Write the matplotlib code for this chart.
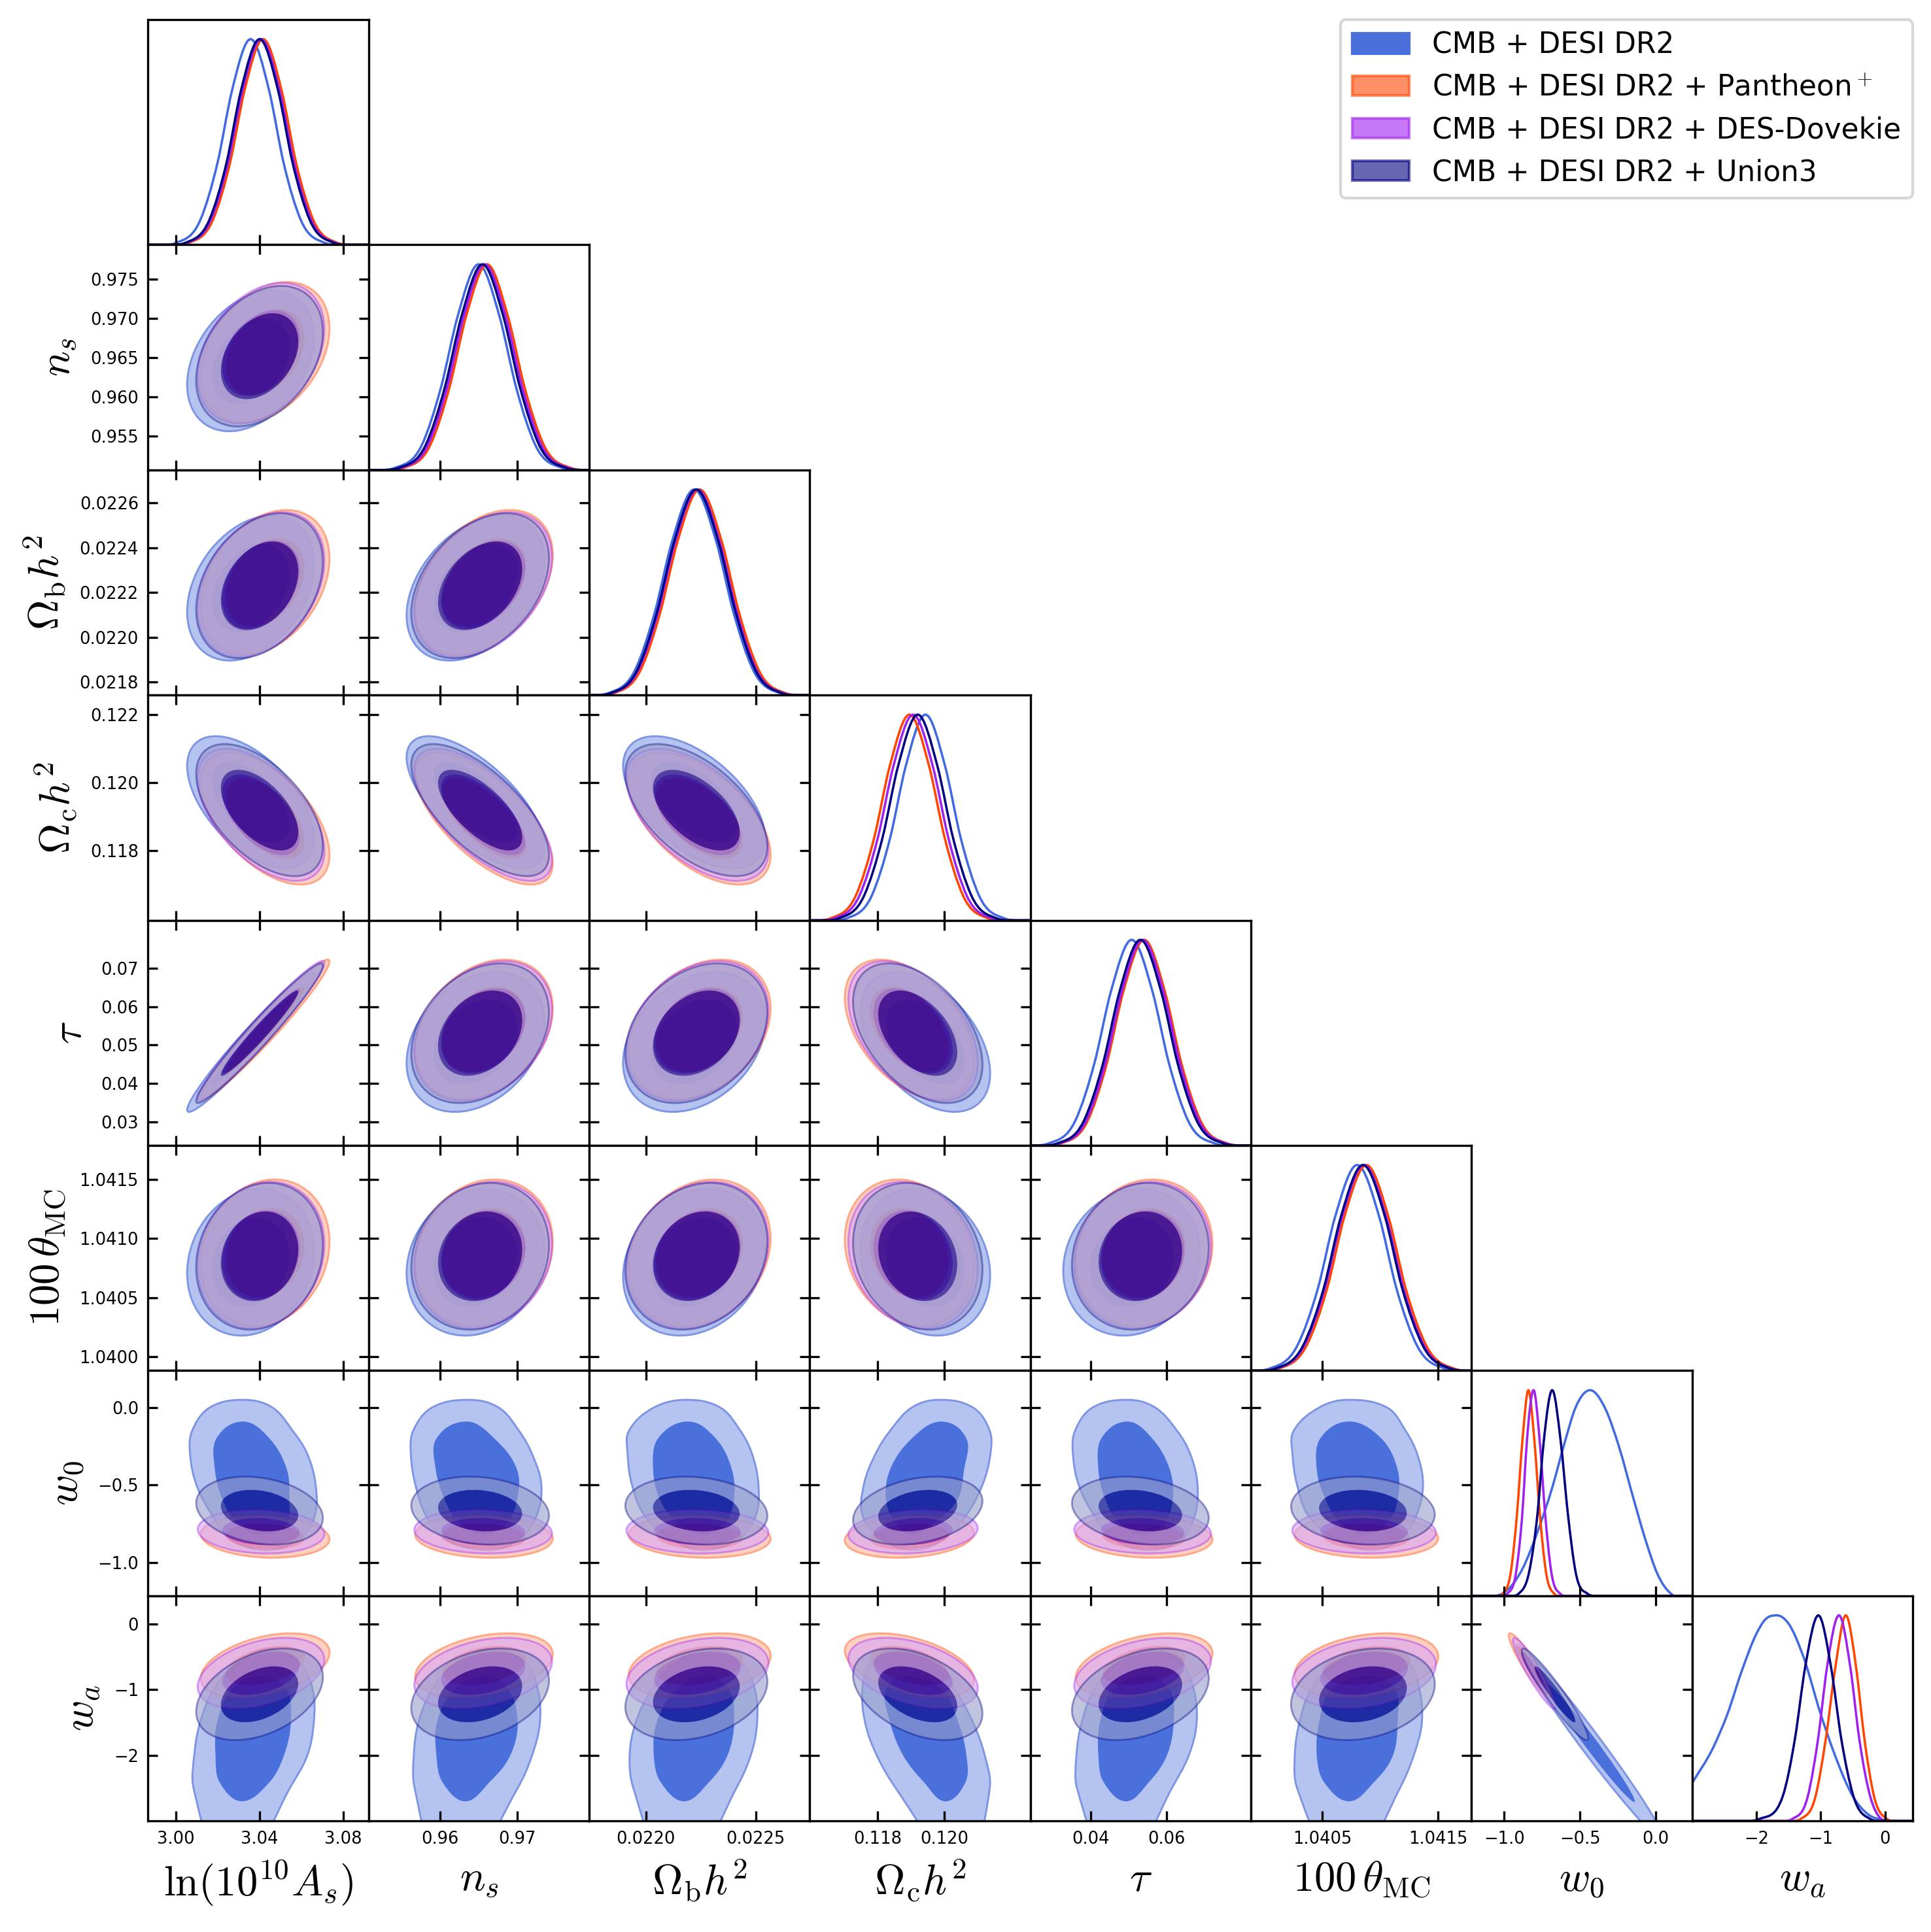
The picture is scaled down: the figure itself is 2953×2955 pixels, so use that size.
import numpy as np
import matplotlib
matplotlib.use("Agg")
import matplotlib.pyplot as plt
from matplotlib.patches import Circle, Patch, PathPatch, Wedge
from matplotlib.path import Path
from matplotlib.transforms import Affine2D

plt.rcParams["mathtext.fontset"] = "cm"

series_names = ["CMB + DESI DR2", r"CMB + DESI DR2 + Pantheon$^+$",
                "CMB + DESI DR2 + DES-Dovekie", "CMB + DESI DR2 + Union3"]
series_colors = ["#4169E1", "#FF4500", "#A020F0", "#000080"]
outer_colors = ["#B5C3F0", "#FFB296", "#D8A3F8", "#969DCB"]
inner_colors = ["#4A70DC", "#FF4500", "#A020F0", "#000080"]
edge_colors = ["#7E95E4", "#FF4500", "#A020F0", "#000080"]
edge_alpha = [1.0, 0.38, 0.38, 0.38]
series_alpha = [1.0, 0.6, 0.6, 0.6]

labels = [r"$\ln(10^{10}A_s)$", r"$n_s$", r"$\Omega_{\mathrm{b}}h^2$", r"$\Omega_{\mathrm{c}}h^2$",
          r"$\tau$", r"$100\,\theta_{\mathrm{MC}}$", r"$w_0$", r"$w_a$"]
limits = [(2.9866, 3.0923), (0.9507, 0.9794), (0.021742, 0.022747), (0.11596, 0.12258),
          (0.02388, 0.08248), (1.03988, 1.04179), (-1.215, 0.2385), (-3.0, 0.43)]
x_ticks = [[3.00, 3.04, 3.08], [0.96, 0.97], [0.0220, 0.0225], [0.118, 0.120],
           [0.04, 0.06], [1.0405, 1.0415], [-1.0, -0.5, 0.0], [-2, -1, 0]]
x_tick_labels = [["3.00", "3.04", "3.08"], ["0.96", "0.97"], ["0.0220", "0.0225"], ["0.118", "0.120"],
                 ["0.04", "0.06"], ["1.0405", "1.0415"], ["\u22121.0", "\u22120.5", "0.0"], ["\u22122", "\u22121", "0"]]
y_ticks = [[], [0.955, 0.960, 0.965, 0.970, 0.975], [0.0218, 0.0220, 0.0222, 0.0224, 0.0226],
           [0.118, 0.120, 0.122], [0.03, 0.04, 0.05, 0.06, 0.07], [1.0400, 1.0405, 1.0410, 1.0415],
           [-1.0, -0.5, 0.0], [-2, -1, 0]]
y_tick_labels = [[], ["0.955", "0.960", "0.965", "0.970", "0.975"],
                 ["0.0218", "0.0220", "0.0222", "0.0224", "0.0226"],
                 ["0.118", "0.120", "0.122"], ["0.03", "0.04", "0.05", "0.06", "0.07"],
                 ["1.0400", "1.0405", "1.0410", "1.0415"], ["\u22121.0", "\u22120.5", "0.0"], ["\u22122", "\u22121", "0"]]

# heights (peak = 1) at which each 1D curve was read
curve_heights = [0.01, 0.12, 0.4, 0.75, 1.0, 0.75, 0.4, 0.12, 0.01]

curves_ln_as = [[3.0002, 3.0116, 3.0199, 3.0268, 3.0357, 3.0446, 3.0515, 3.0598, 3.0712],
                [3.0062, 3.0176, 3.0259, 3.0328, 3.0417, 3.0506, 3.0575, 3.0658, 3.0772],
                [3.0052, 3.0166, 3.0249, 3.0318, 3.0407, 3.0496, 3.0565, 3.0648, 3.0762],
                [3.0045, 3.0159, 3.0242, 3.0311, 3.0400, 3.0489, 3.0558, 3.0641, 3.0755]]
curves_ns = [[.9541, .9576, .9601, .9623, .9650, .9677, .9699, .9724, .9759],
             [.9552, .9587, .9612, .9634, .9661, .9688, .9710, .9735, .9770],
             [.9549, .9584, .9609, .9631, .9658, .9685, .9707, .9732, .9767],
             [.9546, .9581, .9606, .9628, .9655, .9682, .9704, .9729, .9764]]
curves_ob = [[.02183, .02195, .02204, .02212, .02222, .02232, .02240, .02249, .02261],
             [.021855, .021975, .022065, .022145, .022245, .022345, .022425, .022515, .022635],
             [.021845, .021965, .022055, .022135, .022235, .022335, .022415, .022505, .022625],
             [.02184, .02196, .02205, .02213, .02223, .02233, .02241, .0225, .02262]]
curves_oc = [[.11707, .11782, .11837, .11884, .11943, .12002, .12049, .12104, .12179],
             [.11659, .11734, .11789, .11836, .11895, .11954, .12001, .12056, .12131],
             [.1167, .11745, .118, .11847, .11906, .11965, .12012, .12067, .12142],
             [.11684, .11759, .11814, .11861, .1192, .11979, .12026, .12081, .12156]]
curves_tau = [[.0287, .0358, .0409, .0453, .0508, .0563, .0607, .0658, .0729],
              [.0320, .0391, .0442, .0486, .0541, .0596, .0640, .0691, .0762],
              [.0316, .0387, .0438, .0482, .0537, .0592, .0636, .0687, .0758],
              [.0310, .0381, .0432, .0476, .0531, .0586, .0630, .0681, .0752]]
curves_theta = [[1.04004, 1.04028, 1.04046, 1.04061, 1.0408, 1.04099, 1.04114, 1.04132, 1.04156],
                [1.04012, 1.04036, 1.04054, 1.04069, 1.04088, 1.04107, 1.04122, 1.0414, 1.04164],
                [1.0401, 1.04034, 1.04052, 1.04067, 1.04086, 1.04105, 1.0412, 1.04138, 1.04162],
                [1.04009, 1.04033, 1.04051, 1.04066, 1.04085, 1.04104, 1.04119, 1.04137, 1.04161]]
curves_w0 = [None,
             [-1.01, -.955, -.915, -.88, -.84, -.80, -.765, -.725, -.67],
             [-.98, -.92, -.88, -.85, -.806, -.765, -.73, -.69, -.63],
             [-.905, -.834, -.78, -.739, -.683, -.627, -.58, -.53, -.45]]
curves_wa = [None,
             [-1.31, -1.08, -.92, -.77, -.61, -.45, -.32, -.17, .03],
             [-1.44, -1.20, -1.04, -.90, -.715, -.54, -.40, -.23, -.06],
             [-1.95, -1.59, -1.40, -1.24, -1.036, -.84, -.68, -.49, -.23]]
# CMB + DESI DR2 w0 and wa are skewed, so they carry their own heights
blue_w0_x = [-1.0, -.875, -.779, -.683, -.606, -.529, -.433, -.337, -.24, -.154, -.067, .01, .087]
blue_w0_h = [.016, .137, .313, .526, .732, .916, 1.0, .916, .718, .49, .269, .107, .019]
blue_wa_x = [-3.0, -2.67, -2.45, -2.23, -2.0, -1.87, -1.68, -1.5, -1.27, -1.0, -.79, -.49, -.27, 0.0]
blue_wa_h = [.184, .358, .52, .727, .91, .977, 1.0, .96, .80, .52, .33, .115, .034, .004]
curves_all = [curves_ln_as, curves_ns, curves_ob, curves_oc, curves_tau, curves_theta, curves_w0, curves_wa]

# centre and width of the 2D contours, one row per parameter, one entry per series
means = [[3.0357, 3.0427, 3.0407, 3.0400], [.9646, .9657, .9656, .9652], [.02222, .022245, .022235, .02223],
         [.11943, .11895, .11906, .1192], [.0508, .0541, .0537, .0531], [1.0408, 1.04088, 1.04086, 1.04085],
         [-.435, -.833, -.80, -.665], [-1.8, -.63, -.75, -1.07]]
sigmas = [[.0122, .0124, .0122, .0122], [.0036, .0036, .0036, .0036], [.00013, .00013, .00013, .00013],
          [.00078, .00078, .00078, .00078], [.0073, .0073, .0073, .0073], [.00025, .00025, .00025, .00025],
          [.195, .055, .057, .088], [.6, .197, .217, .28]]
# tilt of the contours, lower triangle, columns in parameter order
rho_ns = [.34]
rho_ob = [.33, .38]
rho_oc = [-.55, -.68, -.55]
rho_tau = [.97, .3, .3, -.45]
rho_theta = [.15, .15, .2, -.18, .12]
rho_w0 = [[-.35, -.12, -.1, -.22], [-.28, -.1, -.08, -.15], [-.25, -.1, -.05, -.15],
          [.4, .18, .15, .28], [-.3, -.12, -.1, -.22], [-.2, -.08, -.05, -.12]]
rho_wa = [[.3, .4, .38, .38], [.28, .35, .33, .3], [.22, .3, .3, .28],
          [-.42, -.45, -.42, -.42], [.3, .38, .35, .35], [.18, .28, .25, .22], [-.985, -.93, -.93, -.95]]
rho_rows = [[], rho_ns, rho_ob, rho_oc, rho_tau, rho_theta]

inner_radius = 1.52
outer_radius = 2.49

# CMB + DESI DR2 outlines in the w0 and wa rows: y values shared along each row, x read per column
blue_w0_outer_y = [.05, 0, -.15, -.3, -.5, -.7, -.85, -.92, -.85, -.7, -.5, -.3, -.15, 0]
blue_w0_inner_y = [-.09, -.2, -.4, -.6, -.75, -.82, -.75, -.6, -.4, -.2]
blue_wa_outer_y = [-.38, -.6, -1, -1.5, -2, -2.5, -3.6, -3.6, -2.5, -2, -1.5, -1, -.6]
blue_wa_inner_y = [-.8, -1, -1.5, -2, -2.4, -2.7, -2.4, -2, -1.5, -1]
blue_w0_outer_x = [
    [3.0322, 3.0462, 3.0559, 3.0629, 3.0669, 3.0664, 3.0587, 3.0434, 3.0259, 3.0175, 3.0098, 3.0067, 3.0077, 3.0161],
    [.96366, .96762, .97026, .97196, .97317, .97253, .97026, .9663, .96064, .95819, .95679, .95619, .95649, .95894],
    [.022187, .022339, .022431, .022484, .022513, .0225, .022418, .022253, .022121, .021996, .021937, .021917, .021923, .022036],
    [.11985, .12086, .12136, .12138, .12114, .12064, .11998, .11907, .11815, .11755, .11758, .11793, .11837, .11902],
    [.04969, .05705, .06287, .06636, .0683, .06752, .06403, .0555, .0462, .04093, .03674, .03519, .03574, .04039],
    [1.04072, 1.04106, 1.04122, 1.04132, 1.04137, 1.04131, 1.04117, 1.04092, 1.04062, 1.04038, 1.04028, 1.04024, 1.04025, 1.04047]]
blue_w0_inner_x = [
    [3.0322, 3.0448, 3.0531, 3.0543, 3.0531, 3.0406, 3.0294, 3.0224, 3.0186, 3.0193],
    [.96347, .96706, .97, .97, .96857, .96555, .96253, .96064, .95943, .95951],
    [.022194, .022319, .022392, .022401, .022359, .022253, .022148, .022066, .022033, .022055],
    [.1199, .12066, .12059, .12038, .11963, .11902, .11854, .11825, .11837, .11902],
    [.04969, .05628, .06093, .06171, .05938, .05357, .04775, .04388, .04194, .04271],
    [1.04073, 1.04101, 1.04115, 1.04115, 1.04106, 1.04087, 1.04066, 1.04053, 1.04045, 1.04048]]
blue_wa_outer_x = [
    [3.0448, 3.0594, 3.0655, 3.066, 3.0629, 3.0545, 3.0349, 3.0205, 3.0084, 3.0087, 3.0115, 3.0179, 3.0294],
    [.96668, .97121, .97272, .97298, .97196, .97008, .96415, .95965, .95668, .95657, .95717, .95894, .96196],
    [.022293, .022438, .022497, .022507, .022478, .022412, .022225, .022078, .021943, .021926, .021954, .022026, .022135],
    [.11867, .11985, .12033, .12086, .12121, .12136, .12078, .12013, .11854, .11797, .11762, .11754, .11776],
    [.0555, .06403, .06729, .06806, .06597, .06147, .05089, .04394, .03628, .03612, .03752, .04078, .04698],
    [1.04091, 1.04125, 1.04134, 1.04136, 1.04129, 1.04117, 1.04082, 1.04058, 1.04028, 1.04026, 1.0403, 1.0404, 1.04062]]
blue_wa_inner_x = [
    [3.0406, 3.0531, 3.055, 3.0517, 3.045, 3.0315, 3.0207, 3.0189, 3.0196, 3.0266],
    [.96592, .96894, .97008, .96913, .96649, .96328, .96026, .95951, .95958, .96177],
    [.022266, .022379, .022402, .022372, .02229, .022174, .022066, .022036, .022049, .022135],
    [.11885, .11994, .12042, .12066, .12064, .12003, .11937, .11876, .11837, .11824],
    [.05395, .06093, .06194, .06016, .0555, .0493, .04326, .04194, .04233, .04581],
    [1.0409, 1.04113, 1.04115, 1.04111, 1.04095, 1.04073, 1.04051, 1.04045, 1.04047, 1.04057]]


def get_rho(row, col, s):
    if row == 6:
        return rho_w0[col][s]
    if row == 7:
        return rho_wa[col][s]
    return rho_rows[row][col]


def closed_outline(x, y):
    # smooth closed path through the read outline points
    p = np.column_stack([x, y])
    lo = p.min(axis=0)
    span = np.ptp(p, axis=0)
    q = (p-lo)/span
    n_pts = len(q)
    tang = q[(np.arange(n_pts)+1) % n_pts]-q[np.arange(n_pts)-1]
    tang = tang/np.linalg.norm(tang, axis=1, keepdims=True)
    verts = [q[0]]
    codes = [Path.MOVETO]
    for i in range(n_pts):
        j = (i+1) % n_pts
        d = np.linalg.norm(q[j]-q[i])*0.36
        verts += [q[i]+tang[i]*d, q[j]-tang[j]*d, q[j]]
        codes += [Path.CURVE4]*3
    return Path(np.array(verts)*span+lo, codes)


def curve_path(x, y, x0, x1):
    # smooth path through read points, slopes kept flat at the peak
    x = list(x)
    y = list(y)
    if x[0] > x0:
        x.insert(0, x[0]-(x[1]-x[0])*0.5)
        y.insert(0, 0.0)
    if y[-1] > 0:
        x.append(x[-1]+(x[-1]-x[-2])*0.5)
        y.append(0.0)
    x = np.array(x)
    y = np.array(y)
    h = np.diff(x)
    d = np.diff(y)/h
    m = np.zeros(len(x))
    for i in range(1, len(x)-1):
        if d[i-1]*d[i] > 0:
            m[i] = (d[i-1]*h[i]+d[i]*h[i-1])/(h[i-1]+h[i])
            m[i] = np.sign(m[i])*min(abs(m[i]), 3*abs(d[i-1]), 3*abs(d[i]))
    if y[0] > 0:
        m[0] = d[0]
    verts = []
    codes = []
    if x[0] > x0:
        verts += [(x0, 0), (x[0], y[0])]
        codes += [Path.MOVETO, Path.LINETO]
    else:
        verts += [(x[0], y[0])]
        codes += [Path.MOVETO]
    for i in range(len(x)-1):
        verts += [(x[i]+h[i]/3, y[i]+m[i]*h[i]/3), (x[i+1]-h[i]/3, y[i+1]-m[i+1]*h[i]/3), (x[i+1], y[i+1])]
        codes += [Path.CURVE4]*3
    verts += [(x1, 0)]
    codes += [Path.LINETO]
    return Path(verts, codes)


def draw_contour(ax, row, col, s):
    mx, my = means[col][s], means[row][s]
    sx, sy = sigmas[col][s], sigmas[row][s]
    rho = get_rho(row, col, s)
    m = np.array([[sx, 0, mx], [sy*rho, sy*np.sqrt(1-rho**2), my], [0, 0, 1]])
    tr = Affine2D(m)+ax.transData
    a = series_alpha[s]
    ax.add_patch(Wedge((0, 0), outer_radius, 0, 360, width=outer_radius-inner_radius, transform=tr,
                       facecolor=outer_colors[s], edgecolor="none", alpha=a))
    ax.add_patch(Circle((0, 0), inner_radius, transform=tr, facecolor=inner_colors[s], edgecolor="none", alpha=a))
    ax.add_patch(Circle((0, 0), outer_radius, transform=tr, fill=False, edgecolor=edge_colors[s],
                        lw=0.7, alpha=edge_alpha[s]))


def draw_blue_outline(ax, row, col):
    if row == 6:
        outer = closed_outline(blue_w0_outer_x[col], blue_w0_outer_y)
        inner = closed_outline(blue_w0_inner_x[col], blue_w0_inner_y)
    else:
        outer = closed_outline(blue_wa_outer_x[col], blue_wa_outer_y)
        inner = closed_outline(blue_wa_inner_x[col], blue_wa_inner_y)
    ax.add_patch(PathPatch(outer, facecolor=outer_colors[0], edgecolor=edge_colors[0], lw=0.7))
    ax.add_patch(PathPatch(inner, facecolor=inner_colors[0], edgecolor="none"))


W, H = 2953, 2955
left, top, step_x, step_y = 226.5, 30.0, 337.3, 344.4
fig = plt.figure(figsize=(W/300, H/300), dpi=300)
n = len(labels)

for row in range(n):
    for col in range(row+1):
        ax = fig.add_axes([(left+col*step_x)/W, 1-(top+(row+1)*step_y)/H, step_x/W, step_y/H])
        if row == col:
            for s in range(4):
                if row == 6 and s == 0:
                    xs, hs = blue_w0_x, blue_w0_h
                elif row == 7 and s == 0:
                    xs, hs = blue_wa_x, blue_wa_h
                else:
                    xs, hs = curves_all[row][s], curve_heights
                ax.add_patch(PathPatch(curve_path(xs, hs, *limits[col]), fill=False,
                                       edgecolor=series_colors[s], lw=0.85))
            ax.set_ylim(0, 1.095)
            ax.set_yticks([])
            ax.tick_params(direction="in", labelsize=6.2)
        else:
            for s in range(4):
                if s == 0 and row >= 6 and col < 6:
                    draw_blue_outline(ax, row, col)
                else:
                    draw_contour(ax, row, col, s)
            ax.set_ylim(*limits[row])
            ax.set_yticks(y_ticks[row])
            ax.tick_params(direction="in", top=True, right=True, labelsize=6.2)
        ax.set_xlim(*limits[col])
        ax.set_xticks(x_ticks[col])
        if row == n-1:
            ax.set_xticklabels(x_tick_labels[col])
            ax.set_xlabel(labels[col], fontsize=15.5)
        else:
            ax.set_xticklabels([])
        if col == 0 and row > 0:
            ax.set_yticklabels(y_tick_labels[row])
            ax.set_ylabel(labels[row], fontsize=15.5)
        elif row != col:
            ax.set_yticklabels([])

handles = []
for s in range(4):
    handles.append(Patch(facecolor=inner_colors[s], edgecolor=inner_colors[s], alpha=series_alpha[s], lw=1))
fig.legend(handles, series_names, loc="upper right", fontsize=10.5,
           bbox_to_anchor=(2925/W, 1-30/H), borderaxespad=0)

fig.savefig("out.png", dpi=300)
